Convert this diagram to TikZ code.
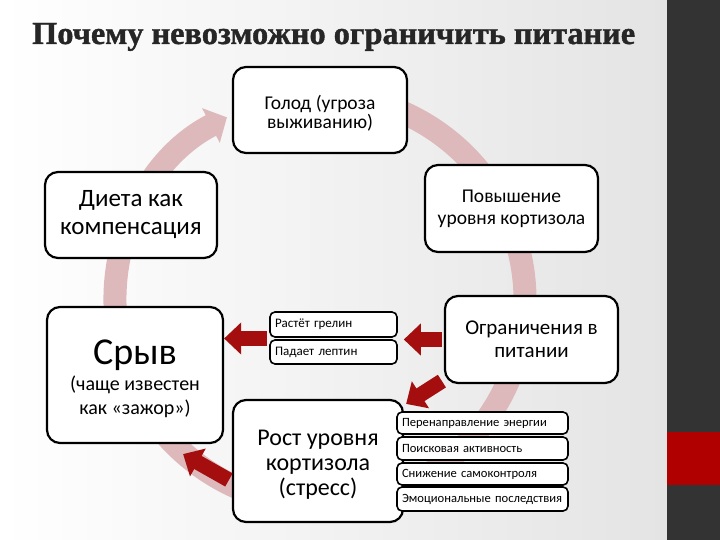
\documentclass[tikz,border=0pt]{standalone}
\usepackage{graphicx}
\usepackage{fontspec}
\setmainfont{Carlito}
\newfontfamily\titlefont[FakeBold=1.3]{Liberation Serif}
\usetikzlibrary{arrows.meta,calc}
\definecolor{ringcol}{RGB}{221,185,187}
\definecolor{arrcol}{RGB}{165,14,14}
\definecolor{barcol}{RGB}{51,51,51}
\definecolor{barred}{RGB}{176,0,0}
\definecolor{titlecol}{RGB}{38,38,38}
\definecolor{bggray}{RGB}{228,228,228}
\begin{document}
\begin{tikzpicture}[x=1pt,y=-1pt,
  bigbox/.style={draw=black, line width=2.2pt, rounded corners=13pt, fill=white, align=center, inner sep=2pt},
  smallbox/.style={draw=black, line width=1.6pt, rounded corners=5pt, fill=white, align=left, inner xsep=4pt, inner ysep=1pt},
  blockarrow/.style={draw=arrcol, line width=15pt, -{Triangle[length=17pt,width=31pt]}},
  ringarrow/.style={draw=ringcol, line width=23pt, -{Triangle[length=18pt,width=38pt]}}]
\useasboundingbox (0,0) rectangle (720,540);
% background
\shade[left color=white, right color=bggray] (0,0) rectangle (667,540);
\fill[barcol] (667,0) rectangle (720,540);
\fill[barred] (667,432) rectangle (720,485);
% title
\node[anchor=base west, inner sep=0pt, text=titlecol] (title) at (32,44)
  {\resizebox{603pt}{21pt}{\titlefont\bfseries Почему невозможно ограничить питание}};
% ring
\draw[ringarrow] (320,300) ++(260:205) arc[start angle=260, end angle=603, radius=205];
% big boxes
\node[bigbox, minimum width=174pt, minimum height=86pt, font=\fontsize{19.5}{19}\selectfont] (golod) at (320,110) {\rule{0pt}{20pt}Голод (угроза\\выживанию)};
\node[bigbox, minimum width=172pt, minimum height=86pt, font=\fontsize{25}{28}\selectfont] (dieta) at (131,215) {Диета как\\компенсация};
\node[bigbox, minimum width=173pt, minimum height=87pt, font=\fontsize{19.5}{22}\selectfont] (povysh) at (511.5,208.5) {Повышение\\уровня кортизола};
\node[bigbox, minimum width=173pt, minimum height=87pt, font=\fontsize{21}{23}\selectfont] (ogr) at (531.5,339.5) {Ограничения в\\питании};
\node[bigbox, minimum width=176pt, minimum height=136pt, font=\fontsize{20}{24}\selectfont] (sryv) at (135,375)
  {{\fontsize{38}{38}\selectfont\rule{0pt}{32pt}Срыв}\\[2pt](чаще известен\\как «зажор»)};
\node[bigbox, minimum width=170pt, minimum height=122pt, font=\fontsize{24}{25}\selectfont] (rost) at (318,461) {\rule{0pt}{23pt}Рост уровня\\кортизола\\(стресс)};
% small boxes
\node[smallbox, minimum width=127pt, minimum height=25pt, text width=117pt, font=\fontsize{13}{14}\selectfont] (grelin) at (333.5,324.5) {Растёт грелин};
\node[smallbox, minimum width=127pt, minimum height=24pt, text width=117pt, font=\fontsize{13}{14}\selectfont] (leptin) at (333.5,352) {Падает лептин};
\node[smallbox, minimum width=171pt, minimum height=22pt, text width=161pt, font=\fontsize{12.6}{13}\selectfont] (energ) at (482.5,423) {Перенаправление энергии};
\node[smallbox, minimum width=171pt, minimum height=23pt, text width=161pt, font=\fontsize{12.6}{13}\selectfont] (poisk) at (482.5,448.5) {Поисковая активность};
\node[smallbox, minimum width=171pt, minimum height=22pt, text width=161pt, font=\fontsize{12.6}{13}\selectfont] (samok) at (482.5,474) {Снижение самоконтроля};
\node[smallbox, minimum width=171pt, minimum height=24pt, text width=161pt, font=\fontsize{12.6}{13}\selectfont] (emoc) at (482.5,499) {Эмоциональные последствия};
% block arrows
\coordinate (aT) at ($(grelin.south west)!0.5!(leptin.north west)$);
\draw[blockarrow, shorten <=2pt] (aT) -- (aT -| sryv.east);
\draw[blockarrow, shorten <=2pt, shorten >=6pt] (ogr.west) -- (ogr.west -| grelin.east);
\coordinate (cT) at ([xshift=-2pt,yshift=3pt]ogr.south west);
\coordinate (cH) at ([xshift=2pt,yshift=-5pt]rost.north east);
\draw[blockarrow] (cT) -- (cH);
\coordinate (dT) at ([xshift=-3pt,yshift=-19pt]rost.west);
\coordinate (dH) at ([xshift=-41pt,yshift=-10pt]sryv.south east);
\draw[blockarrow] (dT) -- (dH);
\end{tikzpicture}
\end{document}
